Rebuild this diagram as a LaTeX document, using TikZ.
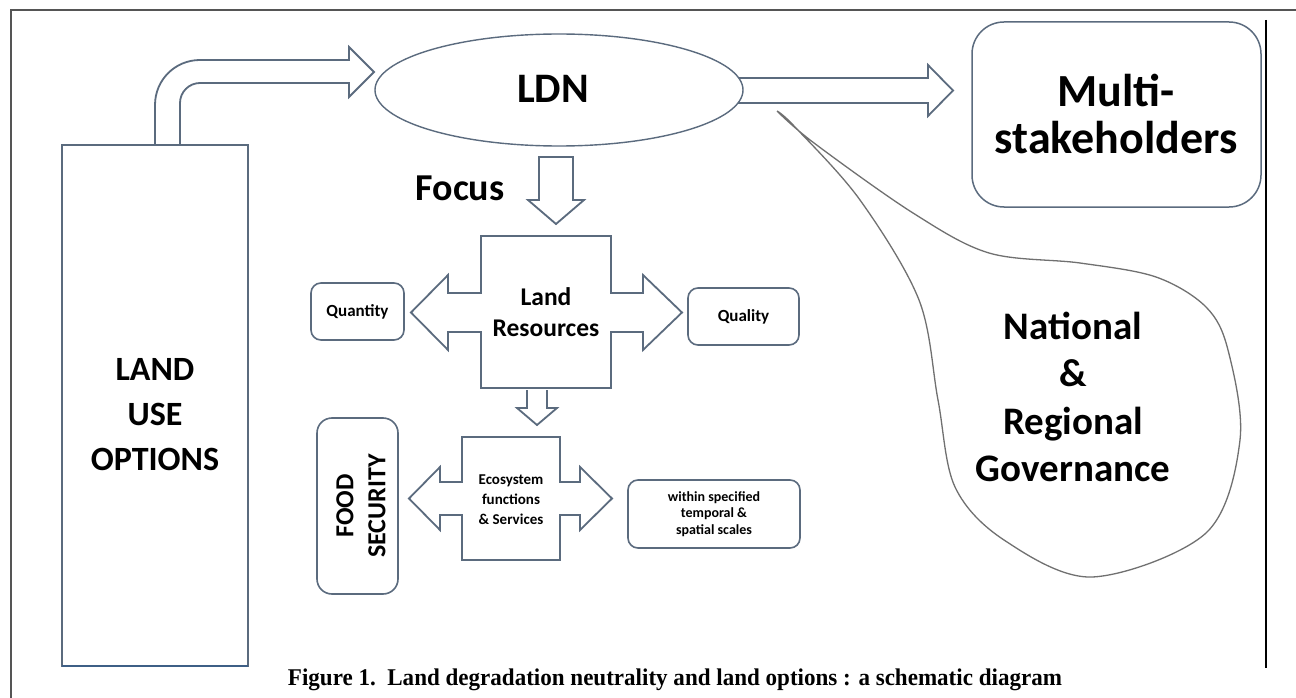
\documentclass[tikz,border=0pt]{standalone}
\usepackage{graphicx}
\usepackage{fontspec}
\setmainfont{Carlito}
\newfontfamily\capfont{Liberation Serif}
\usetikzlibrary{shapes.geometric}
\definecolor{edge}{HTML}{5B6B7E}
\definecolor{framec}{HTML}{555555}
\definecolor{calloutc}{HTML}{707070}
\definecolor{navy}{HTML}{3E5F86}
\begin{document}
\begin{tikzpicture}[x=1pt,y=-1pt,
  every node/.style={inner sep=0pt, outer sep=0pt},
  shp/.style={draw=edge, line width=1.8pt, fill=white, line join=miter},
  rbox/.style={draw=edge, line width=1.6pt, rounded corners=10pt, fill=white, align=center},
  lbl/.style={align=center, text=black},
]
\useasboundingbox (0,0) rectangle (1296,698);
\fill[white] (0,0) rectangle (1296,698);
% frame
\draw[framec, line width=1.5pt] (11,698) -- (11,10) -- (1296,10);
\draw[black, line width=2pt] (1266,20) -- (1266,668);

% land use options
\node[shp, minimum width=186pt, minimum height=521pt] (land) at (155,405.5) {};
\draw[navy, line width=2.4pt] (land.south west) -- (land.south east);
\node[lbl, font=\bfseries\fontsize{34}{45}\selectfont] (landt) at (155,415) {LAND\\USE\\OPTIONS};
% bent arrow
\draw[shp] (155,144) -- (155,105) .. controls (155,80) and (175,60) .. (200,60) -- (349,60) -- (349,47) -- (374,72) -- (349,97) -- (349,83) -- (200,83) .. controls (189,83) and (180,92) .. (180,103) -- (180,144);

% arrow LDN -> multi
\draw[shp] (730,78) -- (928,78) -- (928,65) -- (953,90.5) -- (928,116) -- (928,103) -- (730,103) -- cycle;
% LDN
\node[ellipse, draw=edge, line width=1.4pt, fill=white, minimum width=368pt, minimum height=112pt] (ldn) at (559,90) {};
\node[lbl, font=\bfseries\fontsize{42}{48}\selectfont] (ldnt) at (553,89) {LDN};

% Multi-stakeholders
\node[rbox, rounded corners=32pt, line width=1.5pt, minimum width=289pt, minimum height=185pt] (multi) at (1116.5,114.5) {};
\node[lbl, font=\bfseries\fontsize{46}{47}\selectfont] (multit) at (1116,113.5) {Multi-\\stakeholders};

% callout
\draw[calloutc, line width=1.3pt, fill=white] plot[smooth, tension=0.55] coordinates {(777,111) (814,143) (913,213) (989,253) (1080,263) (1156,277) (1206,307) (1228,350) (1240,440) (1206,533) (1092,577) (1004,540) (955,487) (938,400) (919,300) (860,200) (795,127) (777,111)};
\node[lbl, font=\bfseries\fontsize{39}{47.5}\selectfont] (gov) at (1073,397) {National\\\&\\Regional\\Governance};

% focus
\node[lbl, font=\bfseries\fontsize{38}{40}\selectfont] (focus) at (460,188) {Focus};
\draw[shp] (539,157) -- (539,200) -- (528,200) -- (556,224) -- (584,200) -- (573,200) -- (573,157) -- cycle;

% land resources cross
\draw[shp] (481,236) -- (611,236) -- (611,293) -- (643,293) -- (643,275) -- (682,312.5) -- (643,350) -- (643,332) -- (611,332) -- (611,388) -- (481,388) -- (481,332) -- (448,332) -- (448,350) -- (411,312.5) -- (448,275) -- (448,293) -- (481,293) -- cycle;
\node[lbl, font=\bfseries\fontsize{25.5}{31}\selectfont] (lr) at (546,312.5) {Land\\Resources};

\node[rbox, minimum width=93pt, minimum height=57pt, font=\bfseries\fontsize{17}{19}\selectfont] (qty) at (357.5,311.5) {Quantity};
\node[rbox, minimum width=111pt, minimum height=57pt, font=\bfseries\fontsize{17}{19}\selectfont] (qual) at (743.5,316.5) {Quality};

% small arrow
\draw[shp] (527,390) -- (527,408) -- (517,408) -- (537,425) -- (557,408) -- (547,408) -- (547,390);

% ecosystem cross
\draw[shp] (462,437) -- (560,437) -- (560,482) -- (580,482) -- (580,467) -- (612,498.5) -- (580,530) -- (580,515) -- (560,515) -- (560,560) -- (462,560) -- (462,515) -- (440,515) -- (440,530) -- (409,498.5) -- (440,467) -- (440,482) -- (462,482) -- cycle;
\node[lbl, font=\bfseries\fontsize{15}{20}\selectfont] (eco) at (511,500) {Ecosystem\\functions\\\& Services};

% food security
\node[rbox, rounded corners=15pt, minimum width=81pt, minimum height=176pt] (food) at (357.5,506) {};
\node[lbl, rotate=90, font=\bfseries\fontsize{26}{32}\selectfont] (foodt) at (361,506) {FOOD\\SECURITY};

% within
\node[rbox, minimum width=172pt, minimum height=68pt, font=\bfseries\fontsize{14}{16.5}\selectfont] (within) at (714,514) {within specified\\temporal \&\\spatial scales};

% caption
\node[font=\capfont\bfseries\fontsize{24}{26}\selectfont] (cap) at (675,680) {\scalebox{0.96}[1]{Figure 1.\ \ Land degradation neutrality and land options : a schematic diagram}};
\end{tikzpicture}
\end{document}
